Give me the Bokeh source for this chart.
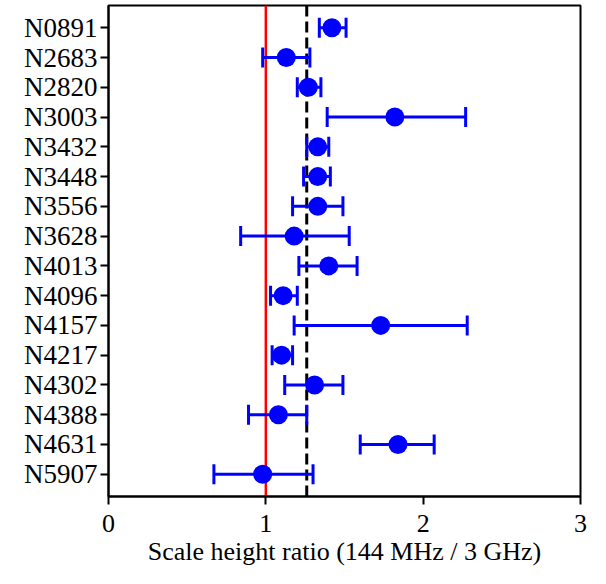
from bokeh.plotting import figure
from bokeh.models import ColumnDataSource, Range1d, FixedTicker, Span, Whisker, TeeHead
from bokeh.embed import file_html
from bokeh.resources import INLINE

galaxies = ["N0891", "N2683", "N2820", "N3003", "N3432", "N3448", "N3556", "N3628",
            "N4013", "N4096", "N4157", "N4217", "N4302", "N4388", "N4631", "N5907"]
ratio = [1.42, 1.13, 1.27, 1.82, 1.33, 1.33, 1.33, 1.18, 1.40, 1.11, 1.73, 1.10, 1.31, 1.08, 1.84, 0.98]
lower = [1.34, 0.98, 1.20, 1.39, 1.26, 1.24, 1.17, 0.84, 1.21, 1.03, 1.18, 1.04, 1.12, 0.89, 1.60, 0.67]
upper = [1.51, 1.28, 1.35, 2.27, 1.40, 1.41, 1.49, 1.53, 1.58, 1.20, 2.28, 1.17, 1.49, 1.26, 2.07, 1.30]
x_ticks = [0, 1, 2, 3]
unity_line = 1.0
mean_line = 1.26
x_label = "Scale height ratio (144 MHz / 3 GHz)"

ypos = list(range(len(galaxies)))
src = ColumnDataSource(dict(y=ypos, x=ratio, lower=lower, upper=upper))

FONT = "Liberation Serif"

p = figure(width=590, height=568, output_backend="svg", toolbar_location=None,
           x_range=Range1d(0, 3), y_range=Range1d(len(galaxies) - 0.25, -0.75),
           min_border_left=108, min_border_right=10, min_border_top=5, min_border_bottom=10)

p.background_fill_color = "white"
p.border_fill_color = "white"
p.outline_line_color = "black"
p.outline_line_width = 2
p.xgrid.visible = False
p.ygrid.visible = False

# reference lines
p.add_layout(Span(location=unity_line, dimension="height", line_color="red",
                  line_width=2.5, level="underlay"))
p.add_layout(Span(location=mean_line, dimension="height", line_color="black",
                  line_width=3, line_dash="11 5", level="underlay"))

# error bars
w = Whisker(source=src, base="y", lower="lower", upper="upper", dimension="width",
            line_color="blue", line_width=3,
            upper_head=TeeHead(size=20, line_color="blue", line_width=3),
            lower_head=TeeHead(size=20, line_color="blue", line_width=3))
p.add_layout(w)

p.scatter("x", "y", source=src, size=19, fill_color="blue", line_color="blue", line_width=0)

# axes
p.xaxis.ticker = FixedTicker(ticks=x_ticks)
p.yaxis.ticker = FixedTicker(ticks=ypos)
p.yaxis.major_label_overrides = {i: g for i, g in enumerate(galaxies)}
for ax in (p.xaxis[0], p.yaxis[0]):
    ax.axis_line_color = "black"
    ax.axis_line_width = 2
    ax.major_tick_line_color = "black"
    ax.major_tick_line_width = 2
    ax.major_tick_in = 0
    ax.major_tick_out = 8
    ax.minor_tick_line_color = None
    ax.major_label_text_font = FONT
    ax.major_label_text_font_size = "26px"
    ax.major_label_text_color = "black"
    ax.axis_label_text_font = FONT
    ax.axis_label_text_font_size = "26px"
    ax.axis_label_text_font_style = "normal"
    ax.axis_label_text_color = "black"

p.yaxis.major_label_text_font_size = "27px"
p.xaxis.axis_label = x_label
p.xaxis.major_label_standoff = 10
p.xaxis.axis_label_standoff = 2
p.yaxis.major_label_standoff = 3

open("out.html", "w").write(file_html(p, INLINE))
